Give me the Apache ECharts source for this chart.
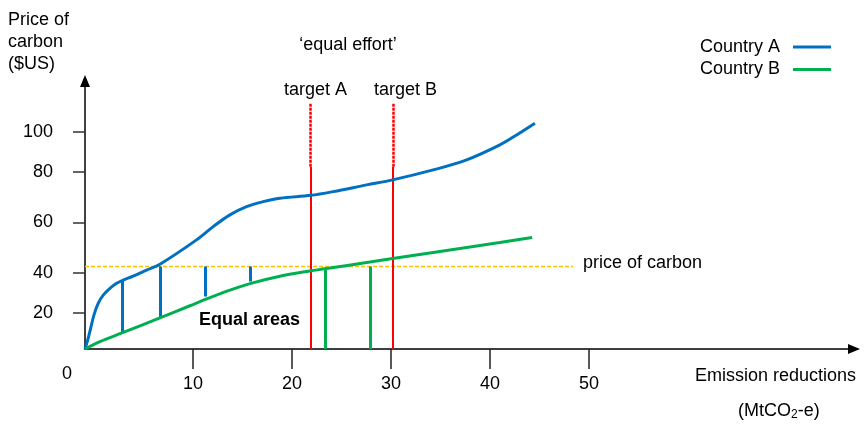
<!DOCTYPE html>
<html><head><meta charset="utf-8">
<script src="https://cdn.jsdelivr.net/npm/echarts@6/dist/echarts.min.js"></script>
<style>html,body{margin:0;padding:0;background:#fff}#chart{width:865px;height:425px}</style>
</head><body><div id="chart"></div>
<script>
const FONT = "'Liberation Sans', Arial, sans-serif";

// Country A marginal cost curve [emission reductions, price]
const countryA = [[-0.9,0],[-0.58,4.9],[-0.33,9.5],[0,15.6],[0.43,21.0],[0.94,24.8],[1.62,27.9],[2.29,30.2],[2.9,31.6],[3.97,33.5],[5.32,36.3],[6.67,39.0],[10.37,50.2],[12.05,56.3],[13.74,61.7],[15.42,65.5],[17.1,67.8],[18.79,69.4],[21.92,70.7],[24.17,72.4],[27.55,75.5],[30.17,77.8],[34.27,82.4],[37.65,87.0],[41.01,93.9],[42.7,98.5],[44.55,103.9]];
// Country B marginal cost curve
const countryB = [[-0.9,0],[0.61,3.4],[2.9,7.5],[6.67,14.3],[9.7,19.9],[11.31,22.9],[13.74,27.1],[15.76,30.1],[18.79,33.5],[21.82,35.9],[23.33,36.9],[27.88,40.0],[30.17,41.6],[34.27,44.4],[37.65,46.7],[41.01,49.0],[44.27,51.3]];
const priceOfCarbon = 37.9;
const priceLineEnd = 48.4;
const targetX = [21.9, 30.2];
const targetTop = 113.2;
const targetSolidTop = 83.8;
// vertical "equal areas" strokes: [x, top, bottom]
const blueStrokes = [[2.9,31.8,7.4],[6.67,37.9,14.1],[11.28,37.9,24.1],[15.83,37.9,31.0]];
const greenStrokes = [[23.4,37.3,0],[27.95,37.9,0]];
// axis ticks
const xTickValues = [10,20,30,40,50];
const xTickLabels = ['10','20','30','40','50'];
const yTickValues = [16.7,35.1,58.3,81.6,100];
const yTickLabels = ['20','40','60','80','100'];
const xMin = -0.9, xMax = 76.78, yMin = 0, yMax = 123.3;

const BLUE = '#0070C0', GREEN = '#00B050', RED = '#FF0000', GOLD = '#FFC000';

function seg(arr){ return arr.map(s => ({coords: [[s[0], s[1]], [s[0], s[2]]]})); }
function nearestLabel(vals, labels, v){
  let bi = 0, bd = Infinity;
  vals.forEach((t,i)=>{ const d = Math.abs(t - v); if (d < bd){ bd = d; bi = i; } });
  return labels[bi];
}

const chart = echarts.init(document.getElementById('chart'), null, {renderer: 'canvas'});
const txt = (text, x, y, extra) => ({type:'text', silent:true, style: Object.assign({text, x, y, fill:'#000', fontSize:18, fontFamily:FONT, align:'left', verticalAlign:'middle'}, extra||{})});

chart.setOption({
  animation: false,
  backgroundColor: '#fff',
  textStyle: {fontFamily: FONT},
  grid: {left: 85, right: 11, top: 81, bottom: 76, containLabel: false},
  legend: {
    data: ['Country A','Country B'], orient: 'vertical', right: 29, top: 33, align: 'right',
    icon: 'rect', itemWidth: 38, itemHeight: 3, itemGap: 4.5,
    textStyle: {fontSize: 18, color: '#000', fontFamily: FONT, padding: [0, 8, 0, 0]}
  },
  xAxis: {
    type: 'value', min: xMin, max: xMax,
    axisLine: {show: true, onZero: false, symbol: ['none','triangle'], symbolSize: [10,12], lineStyle: {color:'#000', width:1.5}},
    axisTick: {show: true, customValues: xTickValues, length: 20, lineStyle: {color:'#222', width:1.5}},
    axisLabel: {show: true, customValues: xTickValues, margin: 26, fontSize: 18, color: '#000', fontFamily: FONT,
      formatter: v => nearestLabel(xTickValues, xTickLabels, v)},
    splitLine: {show: false}
  },
  yAxis: {
    type: 'value', min: yMin, max: yMax,
    axisLine: {show: true, onZero: false, symbol: ['none','triangle'], symbolSize: [10,12], lineStyle: {color:'#000', width:1.5}},
    axisTick: {show: true, customValues: yTickValues, length: 12, lineStyle: {color:'#333', width:1.5}},
    axisLabel: {show: true, customValues: yTickValues, margin: 32, fontSize: 18, color: '#000', fontFamily: FONT,
      formatter: v => nearestLabel(yTickValues, yTickLabels, v)},
    splitLine: {show: false}
  },
  series: [
    {name: 'price of carbon', type: 'line', data: [[xMin, priceOfCarbon],[priceLineEnd, priceOfCarbon]], showSymbol: false, silent: true,
      lineStyle: {color: GOLD, width: 1.5, type: [4,2]}, z: 1},
    {name: 'targets', type: 'lines', coordinateSystem: 'cartesian2d', silent: true, z: 2,
      data: targetX.map(x => ({coords: [[x, 0],[x, targetSolidTop]]})),
      lineStyle: {color: RED, width: 2, opacity: 1}},
    {name: 'targets dotted', type: 'lines', coordinateSystem: 'cartesian2d', silent: true, z: 2,
      data: targetX.map(x => ({coords: [[x, targetSolidTop],[x, targetTop]]})),
      lineStyle: {color: RED, width: 2.5, opacity: 1, type: [3,1]}},
    {name: 'blue strokes', type: 'lines', coordinateSystem: 'cartesian2d', silent: true, z: 3,
      data: seg(blueStrokes), lineStyle: {color: BLUE, width: 3, opacity: 1}},
    {name: 'green strokes', type: 'lines', coordinateSystem: 'cartesian2d', silent: true, z: 3,
      data: seg(greenStrokes), lineStyle: {color: GREEN, width: 3, opacity: 1}},
    {name: 'Country A', type: 'line', data: countryA, smooth: 0.35, showSymbol: false, silent: true,
      lineStyle: {color: BLUE, width: 3}, itemStyle: {color: BLUE}, z: 5},
    {name: 'Country B', type: 'line', data: countryB, smooth: 0.35, showSymbol: false, silent: true,
      lineStyle: {color: GREEN, width: 3}, itemStyle: {color: GREEN}, z: 5}
  ],
  graphic: [
    txt('Price of\ncarbon\n($US)', 8, 9.5, {verticalAlign: 'top', lineHeight: 22}),
    txt('\u2018equal effort\u2019', 348, 45.5, {align: 'center'}),
    txt('target A', 315.5, 90, {align: 'center'}),
    txt('target B', 374, 90),
    txt('price of carbon', 583, 263),
    txt('Equal areas', 199, 320, {fontWeight: 'bold'}),
    txt('Emission reductions', 695, 376),
    txt('(MtCO{sub|2}-e)', 738, 411, {rich: {sub: {fontSize: 12, fontFamily: FONT, fill: '#000', padding: [8, 0, 0, 0]}}}),
    txt('0', 67, 374, {align: 'center'})
  ]
});
</script>
</body></html>
